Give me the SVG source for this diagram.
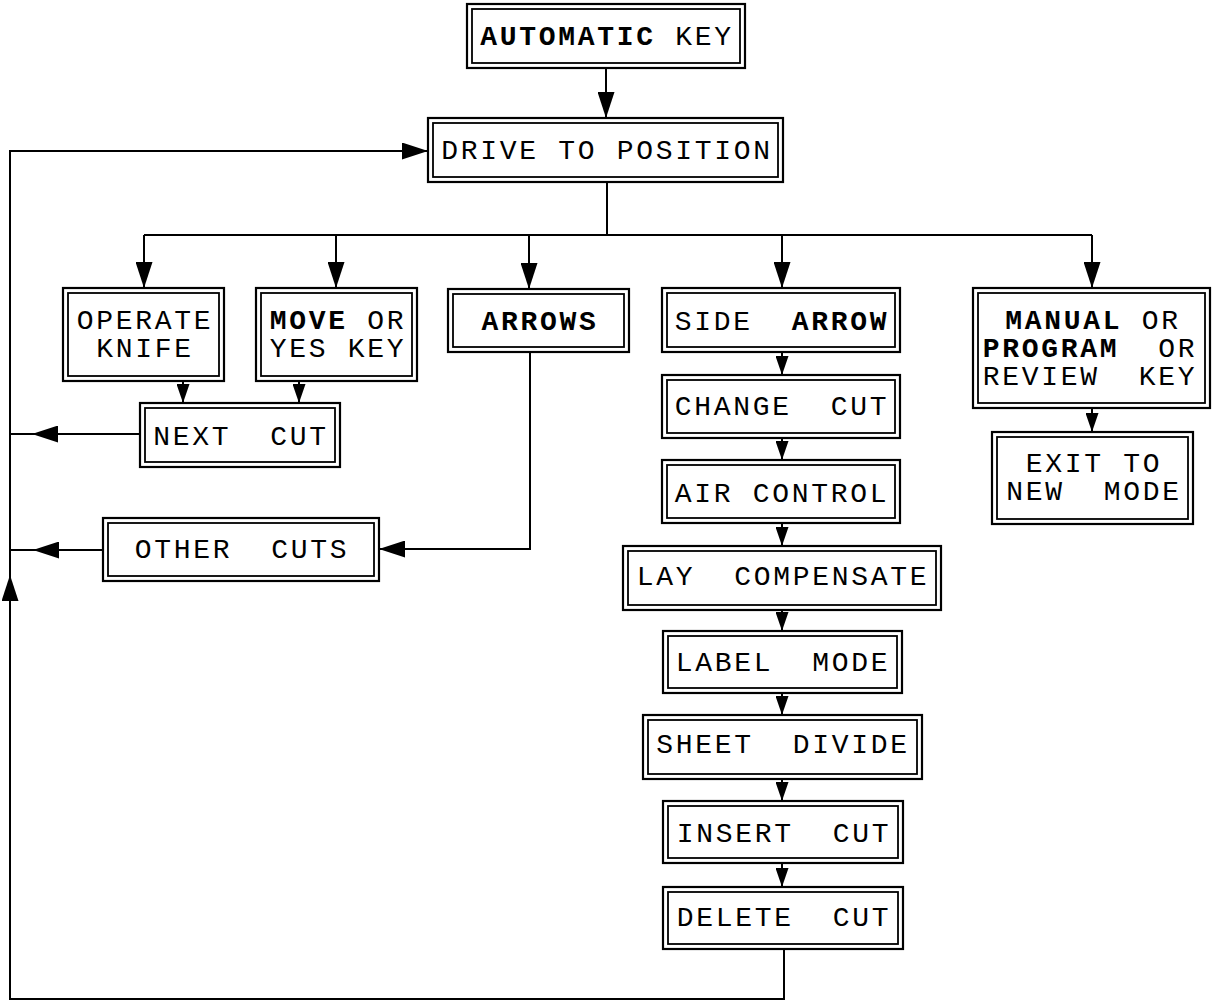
<svg xmlns="http://www.w3.org/2000/svg" width="1212" height="1002" viewBox="0 0 1212 1002">
<defs>
<style>
.o{fill:#fff;stroke:#000;stroke-width:2.2}
.i{fill:none;stroke:#000;stroke-width:1.8}
.t{font-family:"Liberation Mono","Courier New",monospace;font-size:28px;letter-spacing:2.7px;fill:#000;text-anchor:middle;white-space:pre}
.b{font-weight:bold}
.c{fill:none;stroke:#000;stroke-width:2}
</style>
<marker id="big" markerUnits="userSpaceOnUse" markerWidth="26" markerHeight="17" viewBox="0 0 26 17" refX="26" refY="8.5" orient="auto"><path d="M0,0 L26,8.5 L0,17 z" fill="#000"/></marker>
<marker id="sm" markerUnits="userSpaceOnUse" markerWidth="19" markerHeight="13" viewBox="0 0 19 13" refX="19" refY="6.5" orient="auto"><path d="M0,0 L19,6.5 L0,13 z" fill="#000"/></marker>
</defs>
<rect width="1212" height="1002" fill="#fff"/>
<g id="connectors">
<path class="c" d="M606,68 V118" marker-end="url(#big)"/>
<path class="c" d="M607,182 V235"/>
<path class="c" d="M144,235 H1092"/>
<path class="c" d="M144,235 V288" marker-end="url(#big)"/>
<path class="c" d="M336,235 V288" marker-end="url(#big)"/>
<path class="c" d="M529,235 V289" marker-end="url(#big)"/>
<path class="c" d="M782,235 V288" marker-end="url(#big)"/>
<path class="c" d="M1092,235 V288" marker-end="url(#big)"/>
<path class="c" d="M183,381 V403" marker-end="url(#sm)"/>
<path class="c" d="M299,381 V403" marker-end="url(#sm)"/>
<path class="c" d="M140,434 H32" marker-end="url(#big)"/>
<path class="c" d="M32,434 H10"/>
<path class="c" d="M530,352 V549 H379" marker-end="url(#big)"/>
<path class="c" d="M103,550 H33" marker-end="url(#big)"/>
<path class="c" d="M33,550 H10"/>
<path class="c" d="M1092,408 V432" marker-end="url(#sm)"/>
<path class="c" d="M782,352 V375" marker-end="url(#sm)"/>
<path class="c" d="M782,438 V460" marker-end="url(#sm)"/>
<path class="c" d="M782,523 V546" marker-end="url(#sm)"/>
<path class="c" d="M782,610 V631" marker-end="url(#sm)"/>
<path class="c" d="M782,693 V715" marker-end="url(#sm)"/>
<path class="c" d="M782,779 V801" marker-end="url(#sm)"/>
<path class="c" d="M782,863 V887" marker-end="url(#sm)"/>
<path class="c" d="M784,949 V999 H10 V575" marker-end="url(#big)"/>
<path class="c" d="M10,575 V151 H428" marker-end="url(#big)"/>
</g>
<g id="automatic-key"><rect class="o" x="467" y="4" width="278" height="64"/><rect class="i" x="472" y="9" width="268" height="54"/><text class="t" x="607" y="45"><tspan class="b">AUTOMATIC</tspan> KEY</text></g>
<g id="drive-to-position"><rect class="o" x="428" y="118" width="355" height="64"/><rect class="i" x="433" y="123" width="345" height="54"/><text class="t" x="607" y="159">DRIVE TO POSITION</text></g>
<g id="operate-knife"><rect class="o" x="63" y="288" width="161" height="93"/><rect class="i" x="68" y="293" width="151" height="83"/><text class="t" x="145" y="329">OPERATE</text><text class="t" x="145" y="357">KNIFE</text></g>
<g id="move-or-yes-key"><rect class="o" x="256" y="288" width="161" height="93"/><rect class="i" x="261" y="293" width="151" height="83"/><text class="t" x="338" y="329"><tspan class="b">MOVE</tspan> OR</text><text class="t" x="338" y="357">YES KEY</text></g>
<g id="arrows"><rect class="o" x="448" y="289" width="181" height="63"/><rect class="i" x="453" y="294" width="171" height="53"/><text class="t b" x="540" y="330">ARROWS</text></g>
<g id="next-cut"><rect class="o" x="140" y="403" width="200" height="64"/><rect class="i" x="145" y="408" width="190" height="54"/><text class="t" x="241" y="445">NEXT  CUT</text></g>
<g id="other-cuts"><rect class="o" x="103" y="518" width="276" height="63"/><rect class="i" x="108" y="523" width="266" height="53"/><text class="t" x="242" y="558">OTHER  CUTS</text></g>
<g id="side-arrow"><rect class="o" x="662" y="288" width="238" height="64"/><rect class="i" x="667" y="293" width="228" height="54"/><text class="t" x="782" y="330">SIDE  <tspan class="b">ARROW</tspan></text></g>
<g id="change-cut"><rect class="o" x="662" y="375" width="238" height="63"/><rect class="i" x="667" y="380" width="228" height="53"/><text class="t" x="782" y="415">CHANGE  CUT</text></g>
<g id="air-control"><rect class="o" x="662" y="460" width="238" height="63"/><rect class="i" x="667" y="465" width="228" height="53"/><text class="t" x="782" y="502">AIR CONTROL</text></g>
<g id="lay-compensate"><rect class="o" x="623" y="546" width="318" height="64"/><rect class="i" x="628" y="551" width="308" height="54"/><text class="t" x="783" y="585">LAY  COMPENSATE</text></g>
<g id="label-mode"><rect class="o" x="663" y="631" width="239" height="62"/><rect class="i" x="668" y="636" width="229" height="52"/><text class="t" x="783" y="671">LABEL  MODE</text></g>
<g id="sheet-divide"><rect class="o" x="643" y="715" width="279" height="64"/><rect class="i" x="648" y="720" width="269" height="54"/><text class="t" x="783" y="753">SHEET  DIVIDE</text></g>
<g id="insert-cut"><rect class="o" x="663" y="801" width="240" height="62"/><rect class="i" x="668" y="806" width="230" height="52"/><text class="t" x="784" y="842">INSERT  CUT</text></g>
<g id="delete-cut"><rect class="o" x="663" y="887" width="240" height="62"/><rect class="i" x="668" y="892" width="230" height="52"/><text class="t" x="784" y="926">DELETE  CUT</text></g>
<g id="manual-program-review"><rect class="o" x="973" y="288" width="237" height="120"/><rect class="i" x="978" y="293" width="227" height="110"/><text class="t" x="1093" y="329"><tspan class="b">MANUAL</tspan> OR</text><text class="t" x="1090" y="357"><tspan class="b">PROGRAM</tspan>  OR</text><text class="t" x="1090" y="385">REVIEW  KEY</text></g>
<g id="exit-to-new-mode"><rect class="o" x="992" y="432" width="201" height="92"/><rect class="i" x="997" y="437" width="191" height="82"/><text class="t" x="1094" y="472">EXIT TO</text><text class="t" x="1094" y="500">NEW  MODE</text></g>
</svg>
